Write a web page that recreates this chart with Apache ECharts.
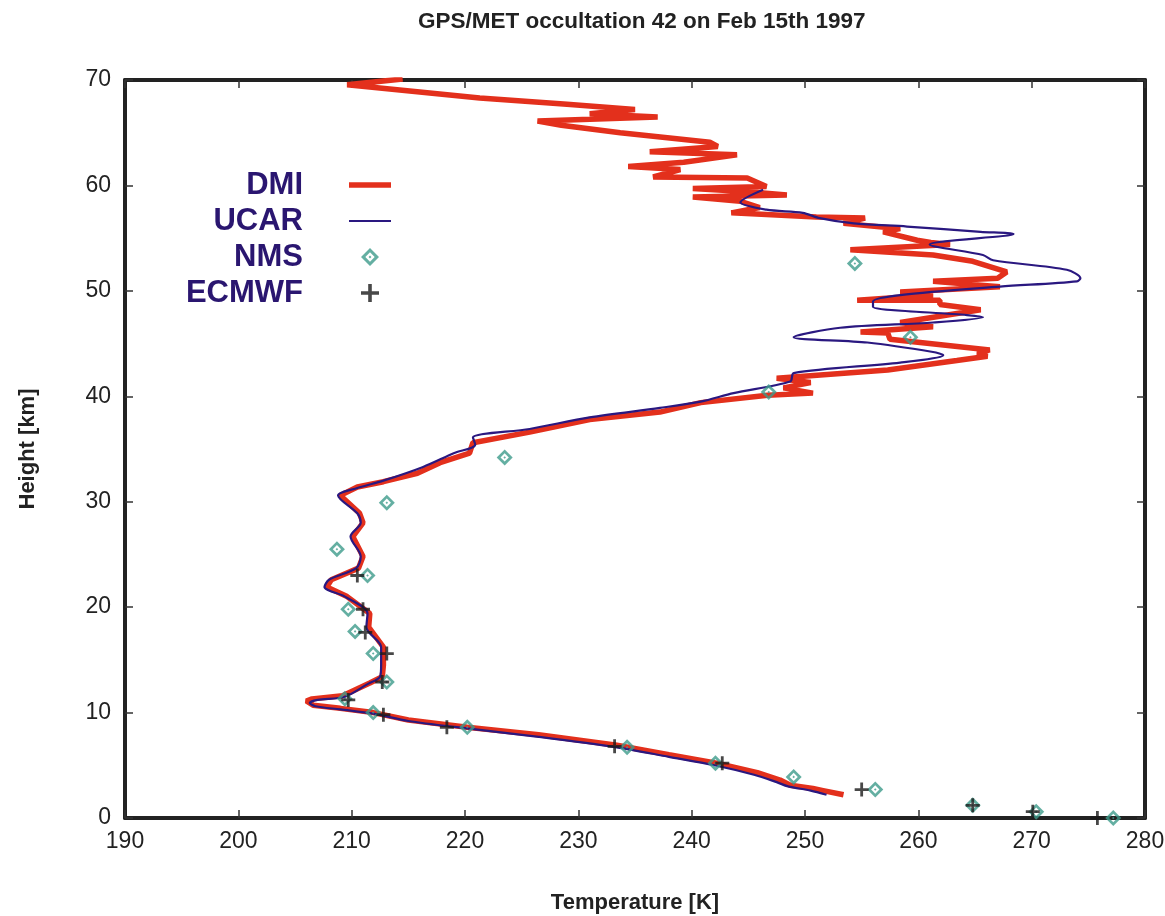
<!DOCTYPE html>
<html>
<head>
<meta charset="utf-8">
<title>GPS/MET occultation 42</title>
<script src="https://cdn.jsdelivr.net/npm/echarts@6/dist/echarts.min.js"></script>
<style>
  html, body { margin: 0; padding: 0; background: #fff; }
  #main { width: 1165px; height: 916px; }
</style>
</head>
<body>
<div id="main"></div>
<script>
// [temperature K, height km]
var dmi = [
  [253.4,2.2],[251.6,2.6],[250.7,2.8],[248.7,3.1],[247.8,3.6],[245.8,4.3],[242.2,5.2],[238,6.0],
  [233.4,6.9],[226.5,7.9],[220.2,8.6],[215,9.3],[211.9,10.0],[209,10.4],[206.6,10.7],[206.0,11.1],
  [206.5,11.3],[209.2,11.6],[211.6,12.8],[212.7,13.4],[212.8,14.5],[212.8,16.2],[211.5,18.1],[211.6,19.4],
  [209.6,21.0],[207.8,21.9],[208.2,22.6],[210.6,23.7],[211.0,24.8],[210.1,26.7],[211.0,28.0],[210.7,28.9],
  [209.0,30.6],[210.5,31.4],[212.8,31.9],[215.8,32.7],[217.8,33.7],[220.4,34.6],[220.7,35.6],[225.7,36.6],
  [231.0,37.8],[237.2,38.5],[240.8,39.4],[246.7,40.1],[250.7,40.3],[248.1,40.8],[250.5,41.3],[247.5,41.7],
  [257.3,42.5],[263.4,43.4],[266.1,43.8],[265.2,44.1],[266.3,44.4],[257.5,45.4],[257.3,46.0],[254.9,46.1],
  [261.3,46.6],[258.4,47.0],[265.5,48.2],[261.9,48.7],[261.9,49.1],[254.6,49.1],[261.3,49.6],[258.4,49.9],
  [267.2,50.4],[261.3,50.9],[267.0,51.2],[267.8,51.8],[264.8,52.8],[261.3,53.4],[254.0,53.9],[262.8,54.4],
  [261.1,54.6],[259.9,54.8],[256.9,55.6],[258.4,55.9],[253.4,56.4],[255.3,56.9],[251.0,57.0],[243.5,57.4],
  [246.0,57.9],[244.3,58.5],[240.1,58.9],[248.4,59.1],[245.0,59.4],[240.1,59.7],[246.6,59.9],[244.9,60.7],
  [236.6,60.8],[239.0,61.5],[234.4,61.8],[239.3,62.2],[244.0,62.9],[236.3,63.2],[242.3,63.7],[241.6,64.1],
  [233.7,65.0],[228.5,65.7],[226.4,66.1],[237.0,66.5],[231.0,66.8],[235.0,67.2],[229.0,67.7],[221.3,68.3],
  [209.6,69.55],[214.5,70.1]
];
var ucar = [
  [251.9,2.2],[250.5,2.6],[248.5,3.0],[247.5,3.4],[245.5,4.1],[242.0,5.0],[238,5.8],[233.4,6.7],
  [226.5,7.7],[220.2,8.5],[215,9.2],[211.9,9.9],[209,10.3],[206.8,10.6],[206.3,10.9],[207,11.2],
  [209.4,11.5],[211.4,12.7],[212.5,13.4],[212.6,14.5],[212.6,16.2],[211.3,18.1],[211.4,19.4],[209.4,21.0],
  [207.6,21.9],[208.0,22.6],[210.4,23.7],[210.8,24.8],[209.9,26.7],[210.8,28.0],[210.5,28.9],[208.8,30.6],
  [210.5,31.3],[212.8,32.0],[216.3,33.3],[219.0,34.6],[220.9,35.4],[220.7,36.1],[225.7,36.9],[231.0,38.0],
  [237.2,38.9],[240.8,39.5],[243.7,40.3],[248.7,41.4],[249.0,42.2],[258.4,43.2],[262.2,43.9],[261.3,44.2],
  [255.5,45.1],[249.0,45.6],[253.1,46.5],[261.3,47.0],[265.7,47.5],[264.3,47.7],[256.0,48.5],[256.0,49.0],
  [258.4,49.6],[267.2,50.4],[274.0,50.9],[274.3,51.2],[273.1,52.0],[266.6,52.9],[265.7,53.4],[261.0,54.4],
  [268.4,55.4],[265.5,55.6],[259.0,56.1],[254.3,56.4],[251.3,56.9],[249.8,57.4],[246.6,57.7],[244.3,58.4],
  [246.3,59.6]
];
var nms = [
  [277.2,0.0],[270.4,0.6],[264.8,1.2],[256.2,2.7],[249.0,3.9],[242.1,5.2],[234.3,6.7],[220.2,8.6],
  [211.9,10.0],[209.4,11.3],[213.1,12.9],[211.9,15.6],[210.3,17.7],[209.7,19.8],[211.4,23.0],[208.7,25.5],
  [213.1,29.9],[223.5,34.2],[246.8,40.4],[259.3,45.6],[254.4,52.6]
];
var ecmwf = [
  [275.8,0.0],[270.1,0.6],[264.8,1.2],[255.0,2.7],[242.7,5.2],[233.2,6.8],[218.4,8.6],[212.8,9.8],
  [209.7,11.2],[212.7,12.9],[213.1,15.6],[211.2,17.6],[211.0,19.8],[210.5,23.0]
];

var diamondPath = 'path://M0,-10 L10,0 L0,10 L-10,0 Z M0,-5.2 L-5.2,0 L0,5.2 L5.2,0 Z M0,-1.6 L1.6,0 L0,1.6 L-1.6,0 Z';
var plusPath = 'path://M-1.4,-7 L1.4,-7 L1.4,-1.4 L7,-1.4 L7,1.4 L1.4,1.4 L1.4,7 L-1.4,7 L-1.4,1.4 L-7,1.4 L-7,-1.4 L-1.4,-1.4 Z';
// legend line icons: thin bar, tiny corner points keep the 42x18 box
var thickLine = 'path://M0,6.3 L42,6.3 L42,11.7 L0,11.7 Z M0,0 L0.01,0 L0,0.01 Z M42,18 L41.99,18 L42,17.99 Z';
var thinLine = 'path://M0,7.9 L42,7.9 L42,10.1 L0,10.1 Z M0,0 L0.01,0 L0,0.01 Z M42,18 L41.99,18 L42,17.99 Z';

var myChart = echarts.init(document.getElementById('main'));
var frame = { show: true, onZero: false, lineStyle: { color: '#222', width: 4 } };
var ticks = { show: true, inside: true, length: 8, lineStyle: { color: '#333', width: 1.5 } };
var lbl = { fontFamily: 'Liberation Sans', fontSize: 23, color: '#222' };
var nameStyle = { fontFamily: 'Liberation Sans', fontWeight: 'bold', fontSize: 22, color: '#222' };

option = {
  animation: false,
  backgroundColor: '#fff',
  title: {
    text: 'GPS/MET occultation 42 on Feb 15th 1997',
    left: 413, top: 5,
    textStyle: { fontFamily: 'Liberation Sans', fontWeight: 'bold', fontSize: 22.5, color: '#222' }
  },
  grid: { left: 125, right: 20, top: 80, bottom: 98, outerBoundsMode: 'none' },
  legend: {
    orient: 'vertical',
    left: 178, top: 162,
    align: 'right',
    itemGap: 0,
    itemWidth: 42, itemHeight: 18,
    selectedMode: false,
    data: [
      { name: 'DMI', icon: thickLine },
      { name: 'UCAR', icon: thinLine },
      { name: 'NMS' },
      { name: 'ECMWF' }
    ],
    formatter: '{a|{name}}',
    textStyle: {
      rich: {
        a: { width: 120, align: 'right', padding: [0, 41, 0, 0], fontFamily: 'Liberation Sans',
             fontWeight: 'bold', fontSize: 31, height: 36, lineHeight: 36, color: '#2a1670' }
      }
    }
  },
  xAxis: [
    {
      type: 'value', min: 190, max: 280, interval: 10, position: 'bottom',
      name: 'Temperature [K]', nameLocation: 'middle', nameGap: 74, nameTextStyle: nameStyle,
      axisLine: frame, axisTick: ticks, splitLine: { show: false },
      axisLabel: Object.assign({ margin: 12 }, lbl)
    },
    {
      type: 'value', min: 190, max: 280, interval: 10, position: 'top',
      axisLine: frame, axisTick: ticks, splitLine: { show: false }, axisLabel: { show: false }
    }
  ],
  yAxis: [
    {
      type: 'value', min: 0, max: 70, interval: 10, position: 'left',
      name: 'Height [km]', nameLocation: 'middle', nameGap: 86, nameTextStyle: nameStyle,
      axisLine: frame, axisTick: ticks, splitLine: { show: false },
      axisLabel: Object.assign({ margin: 14 }, lbl)
    },
    {
      type: 'value', min: 0, max: 70, interval: 10, position: 'right',
      axisLine: frame, axisTick: ticks, splitLine: { show: false }, axisLabel: { show: false }
    }
  ],
  series: [
    {
      name: 'DMI', type: 'line', data: dmi, symbol: 'none',
      lineStyle: { color: '#e3301c', width: 5.5 }, itemStyle: { color: '#e3301c' }, z: 2
    },
    {
      name: 'UCAR', type: 'line', data: ucar, symbol: 'none', smooth: 0.3,
      lineStyle: { color: '#2a1880', width: 2.2 }, itemStyle: { color: '#2a1880' }, z: 3
    },
    {
      name: 'NMS', type: 'scatter', data: nms, symbol: diamondPath, symbolSize: 16,
      itemStyle: { color: '#3d9b8b' }, z: 4
    },
    {
      name: 'ECMWF', type: 'scatter', data: ecmwf, symbol: plusPath, symbolSize: 14,
      itemStyle: { color: '#1a1a1a' }, z: 5
    }
  ]
};

myChart.setOption(option);
</script>
</body>
</html>
